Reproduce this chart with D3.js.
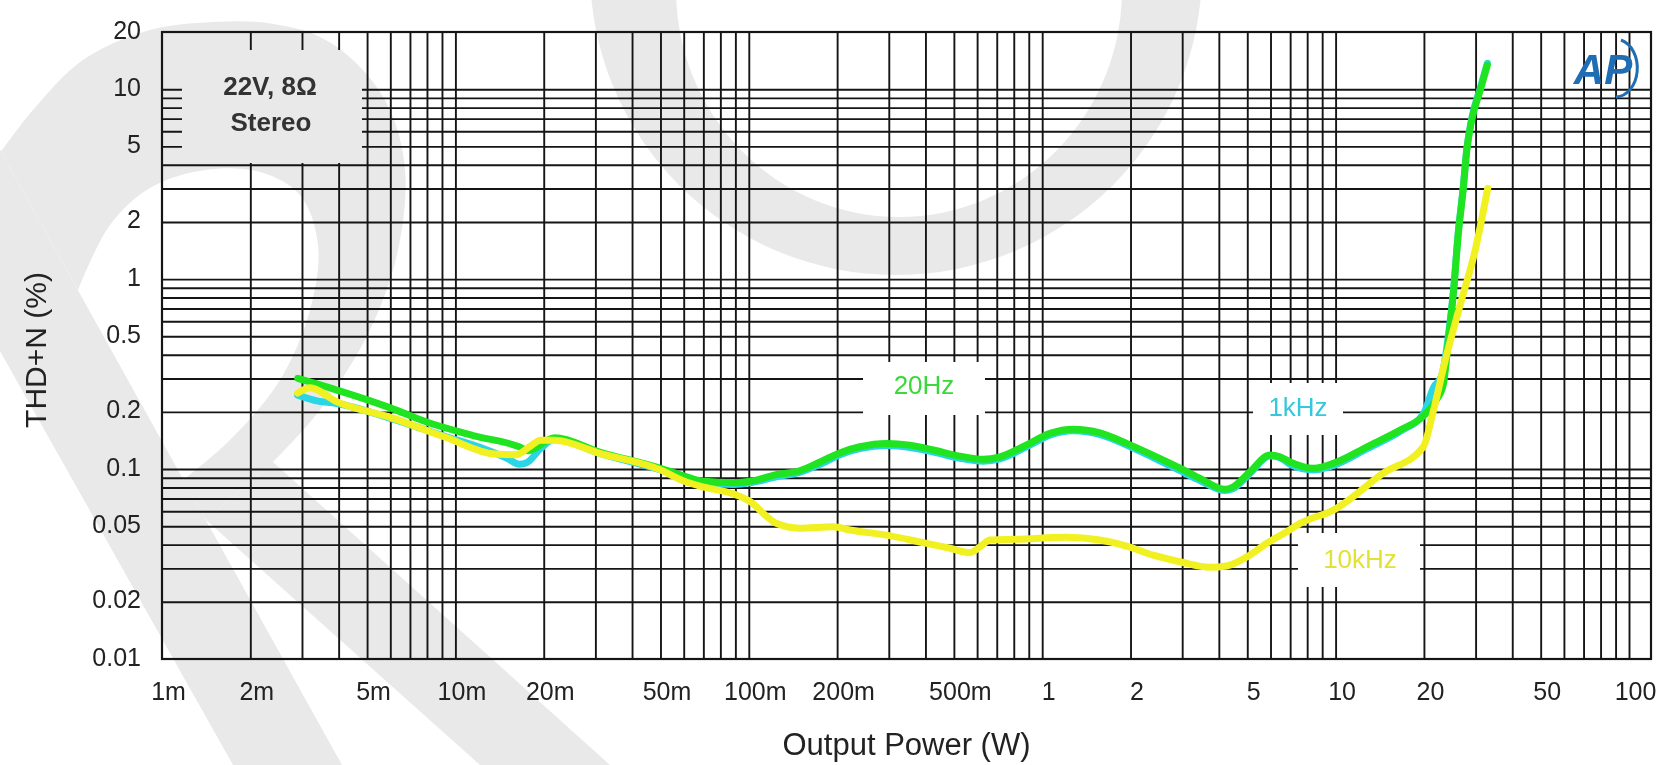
<!DOCTYPE html>
<html>
<head>
<meta charset="utf-8">
<script src="https://cdn.jsdelivr.net/npm/d3@7"></script>
<style>
  html, body { margin: 0; padding: 0; background: #ffffff; }
  svg { display: block; }
  text { font-family: "Liberation Sans", Arial, Helvetica, sans-serif; }
</style>
</head>
<body>
<svg id="chart" width="1659" height="765"></svg>
<script>
// ---- Axis ticks -----------------------------------------------------------
const powerTicks = [0.001, 0.002, 0.005, 0.01, 0.02, 0.05, 0.1, 0.2, 0.5, 1, 2, 5, 10, 20, 50, 100];
const powerTickLabels = ["1m", "2m", "5m", "10m", "20m", "50m", "100m", "200m", "500m", "1", "2", "5", "10", "20", "50", "100"];
const thdTicks = [20, 10, 5, 2, 1, 0.5, 0.2, 0.1, 0.05, 0.02, 0.01];
const thdTickLabels = ["20", "10", "5", "2", "1", "0.5", "0.2", "0.1", "0.05", "0.02", "0.01"];

// ---- Series: output power (W) and THD+N (%) -----------------------------
const seriesNames = ["20Hz", "1kHz", "10kHz"];

const power20Hz = [0.0029, 0.0039, 0.006, 0.0079, 0.0115, 0.0165, 0.0177, 0.0218, 0.031, 0.05, 0.06, 0.069,
  0.089, 0.102, 0.124, 0.149, 0.175, 0.205, 0.239, 0.295, 0.354, 0.426, 0.524, 0.63, 0.718, 0.885, 1.063,
  1.276, 1.574, 1.94, 2.39, 2.95, 3.45, 4.2, 4.48, 5.11, 5.97, 6.46, 6.99, 8.4, 10.09, 12.8, 16.6, 19.9,
  22.0, 23.3, 24.3, 25.2, 26.2, 27.2, 28.0, 29.1, 31.1, 32.9];
const thd20Hz = [0.30, 0.262, 0.21, 0.178, 0.150, 0.131, 0.125, 0.146, 0.123, 0.101, 0.092, 0.0865,
  0.0847, 0.0865, 0.0935, 0.098, 0.109, 0.122, 0.131, 0.1365, 0.1337, 0.126, 0.117, 0.1125, 0.116, 0.134, 0.154,
  0.162, 0.155, 0.1365, 0.118, 0.101, 0.0893, 0.0782, 0.0807, 0.0968, 0.1185, 0.116, 0.109, 0.1009, 0.109, 0.131, 0.1604, 0.19,
  0.23, 0.28, 0.5, 0.84, 1.74, 2.94, 4.77, 6.87, 9.88, 13.4];

const power1kHz = [0.0029, 0.0034, 0.0039, 0.006, 0.0093, 0.0125, 0.015, 0.0165, 0.0175, 0.0195, 0.0218, 0.031,
  0.05, 0.06, 0.069, 0.089, 0.102, 0.124, 0.149, 0.175, 0.205, 0.239, 0.295, 0.354, 0.426, 0.524, 0.63, 0.718,
  0.885, 1.063, 1.276, 1.574, 1.94, 2.39, 2.95, 3.45, 4.2, 4.48, 5.11, 5.97, 6.46, 6.99, 8.4, 10.09, 12.8, 16.6,
  19.9, 21.6, 23.0, 24.3, 25.2, 26.2, 27.2, 28.0, 29.1, 31.1, 32.9];
const thd1kHz = [0.245, 0.228, 0.222, 0.185, 0.148, 0.128, 0.114, 0.106, 0.108, 0.128, 0.144, 0.121,
  0.099, 0.090, 0.085, 0.083, 0.085, 0.091, 0.096, 0.106, 0.119, 0.128, 0.133, 0.130, 0.123, 0.114, 0.110, 0.113,
  0.131, 0.151, 0.159, 0.152, 0.134, 0.115, 0.098, 0.087, 0.077, 0.079, 0.095, 0.117, 0.115, 0.106, 0.099, 0.106, 0.128, 0.158,
  0.195, 0.27, 0.31, 0.52, 0.86, 1.78, 3.0, 4.85, 7.0, 10.1, 13.7];

const power10kHz = [0.0029, 0.0032, 0.0039, 0.006, 0.00925, 0.0136, 0.0161, 0.0179, 0.0195, 0.0218, 0.031,
  0.05, 0.06, 0.071, 0.089, 0.102, 0.114, 0.124, 0.149, 0.194, 0.221, 0.295, 0.404, 0.485, 0.567, 0.614,
  0.664, 0.819, 1.21, 1.574, 1.94, 2.39, 2.95, 3.73, 4.25, 4.98, 5.82, 6.81, 7.57, 9.82, 14.5, 19.9, 21.5,
  23.5, 26.5, 30.0, 33.0];
const thd10kHz = [0.251, 0.268, 0.228, 0.187, 0.147, 0.120, 0.119, 0.131, 0.142, 0.142, 0.121,
  0.099, 0.0865, 0.080, 0.0738, 0.0668, 0.057, 0.0518, 0.0488, 0.0497, 0.0478, 0.0449, 0.0406, 0.0383, 0.0363, 0.039,
  0.0423, 0.0427, 0.0437, 0.0423, 0.0393, 0.0352, 0.0325, 0.0304, 0.0309, 0.0345, 0.0406, 0.0468, 0.0518, 0.0608, 0.0948, 0.131, 0.20,
  0.36, 0.72, 1.45, 3.0];

// ---- Layout ---------------------------------------------------------------
const svg = d3.select("#chart");
const W = 1659, H = 765;
const plotLeft = 162, plotTop = 32, plotBottom = 659, frameRight = 1651;

const x = d3.scaleLog().domain([0.001, 100]).range([plotLeft, 1629]);
const y = d3.scaleLog().domain([0.01, 20]).range([plotBottom, plotTop]);

const colors = { "20Hz": "#1fe41f", "1kHz": "#2ad6e6", "10kHz": "#f1f122" };
const labelColors = { "20Hz": "#3ad83a", "1kHz": "#35c8dc", "10kHz": "#e2e236" };

// ---- Background watermark (light grey letterforms) ---------------------
const wm = svg.append("g").attr("fill", "#e9e9e9").attr("stroke", "none");
// big ring, lower half visible along the top
wm.append("path")
  .attr("fill-rule", "evenodd")
  .attr("d",
    "M " + (896 - 306) + " -30 a 306 305 0 1 0 612 0 a 306 305 0 1 0 -612 0 Z " +
    "M " + (899 - 223) + " -10 a 223 227 0 1 0 446 0 a 223 227 0 1 0 -446 0 Z");
// diagonal stem on the left
wm.append("path").attr("d", "M0,150 L342,765 L233,765 L0,351 Z");
// bowl joined to the stem
const bowlLine = d3.line().curve(d3.curveCatmullRom);
const bowlOuter = [[0,153],[33,110],[83,60],[150,30],[213,22],[267,23],[320,37],[360,67],[390,110],[405,170],[398,250],[370,330],[320,410],[273,462]];
const bowlInner = [[183,480],[230,440],[280,380],[310,310],[318,245],[300,195],[260,172],[205,170],[150,188],[110,225],[78,290]];
wm.append("path").attr("d", bowlLine(bowlOuter) + "L206,520" + bowlLine(bowlInner).replace(/^M/, "L") + "L0,150Z");
// diagonal leg heading to the bottom
wm.append("path").attr("d", "M273,462 L206,520 L480,765 L610,765 Z");

// ---- Grid (knocked out behind the annotation boxes) ---------------------
const knockouts = [
  { x0: 182, y0: 50, x1: 362, y1: 163 },
  { x0: 863, y0: 362, x1: 985, y1: 415 },
  { x0: 1253, y0: 383, x1: 1343, y1: 435 },
  { x0: 1298, y0: 533, x1: 1420, y1: 587 }
];
const defs = svg.append("defs");
const mask = defs.append("mask").attr("id", "gridMask")
  .attr("maskUnits", "userSpaceOnUse").attr("x", 0).attr("y", 0).attr("width", W).attr("height", H);
mask.append("rect").attr("x", 0).attr("y", 0).attr("width", W).attr("height", H).attr("fill", "white");
knockouts.forEach(k => mask.append("rect")
  .attr("x", k.x0).attr("y", k.y0).attr("width", k.x1 - k.x0).attr("height", k.y1 - k.y0).attr("fill", "black"));

const gridPowers = [];
for (let e = -3; e <= 1; e++) for (let k = 1; k <= 9; k++) {
  const v = +(k * Math.pow(10, e)).toPrecision(3);
  if (v > 0.001) gridPowers.push(v);
}
gridPowers.push(100);
const gridThd = [];
for (let e = -2; e <= 0; e++) for (let k = 1; k <= 9; k++) {
  const v = +(k * Math.pow(10, e)).toPrecision(3);
  if (v > 0.01) gridThd.push(v);
}
gridThd.push(10);

const gridG = svg.append("g").attr("mask", "url(#gridMask)");
gridG.append("g")
  .attr("transform", `translate(0,${plotBottom})`)
  .call(d3.axisBottom(x).tickValues(gridPowers).tickSize(-(plotBottom - plotTop)).tickFormat(""))
  .call(g => g.select(".domain").remove());
gridG.append("g")
  .attr("transform", `translate(${plotLeft},0)`)
  .call(d3.axisLeft(y).tickValues(gridThd).tickSize(-(frameRight - plotLeft)).tickFormat(""))
  .call(g => g.select(".domain").remove());
gridG.selectAll(".tick line").attr("stroke", "#151515").attr("stroke-width", 1.9);

// frame
svg.append("rect")
  .attr("x", plotLeft).attr("y", plotTop)
  .attr("width", frameRight - plotLeft).attr("height", plotBottom - plotTop)
  .attr("fill", "none").attr("stroke", "#151515").attr("stroke-width", 2.2);

// ---- Tick labels ----------------------------------------------------------
const xAxisG = svg.append("g")
  .attr("transform", `translate(6,${plotBottom})`)
  .call(d3.axisBottom(x).tickValues(powerTicks).tickSize(0).tickPadding(23)
    .tickFormat((d, i) => powerTickLabels[i]));
xAxisG.select(".domain").remove();
xAxisG.selectAll("text").attr("font-size", 25).attr("fill", "#222")
  .style("font-family", '"Liberation Sans", Arial, sans-serif');

const yAxisG = svg.append("g")
  .attr("transform", `translate(${plotLeft},-2)`)
  .call(d3.axisLeft(y).tickValues(thdTicks).tickSize(0).tickPadding(21)
    .tickFormat((d, i) => thdTickLabels[i]));
yAxisG.select(".domain").remove();
yAxisG.selectAll("text").attr("font-size", 25).attr("fill", "#222")
  .style("font-family", '"Liberation Sans", Arial, sans-serif');

// axis titles
svg.append("text")
  .attr("x", (plotLeft + frameRight) / 2).attr("y", 755)
  .attr("text-anchor", "middle").attr("font-size", 31).attr("fill", "#222")
  .text("Output Power (W)");
svg.append("text")
  .attr("transform", "translate(46,350) rotate(-90)")
  .attr("text-anchor", "middle").attr("font-size", 30).attr("fill", "#222")
  .text("THD+N (%)");

// ---- Curves ---------------------------------------------------------------
const toPoints = (ps, vs) => ps.map((p, i) => ({ p, v: vs[i] }));
const series = [
  { name: "1kHz", pts: toPoints(power1kHz, thd1kHz) },
  { name: "20Hz", pts: toPoints(power20Hz, thd20Hz) },
  { name: "10kHz", pts: toPoints(power10kHz, thd10kHz) }
];
const line = d3.line().x(d => x(d.p)).y(d => y(d.v)).curve(d3.curveMonotoneX);
svg.append("g").selectAll("path").data(series).join("path")
  .attr("d", d => line(d.pts))
  .attr("fill", "none")
  .attr("stroke", d => colors[d.name])
  .attr("stroke-width", 7)
  .attr("stroke-linecap", "round")
  .attr("stroke-linejoin", "round");

// ---- Annotations ----------------------------------------------------------
const noteG = svg.append("g").attr("font-weight", "bold").attr("fill", "#333").attr("font-size", 26)
  .attr("text-anchor", "middle");
noteG.append("text").attr("x", 270).attr("y", 95).text("22V, 8\u03A9");
noteG.append("text").attr("x", 271).attr("y", 131).text("Stereo");

const seriesLabels = [
  { name: "20Hz", x: 924, y: 394 },
  { name: "1kHz", x: 1298, y: 416 },
  { name: "10kHz", x: 1360, y: 568 }
];
svg.append("g").selectAll("text").data(seriesLabels).join("text")
  .attr("x", d => d.x).attr("y", d => d.y)
  .attr("text-anchor", "middle").attr("font-size", 26)
  .attr("fill", d => labelColors[d.name])
  .text(d => d.name);

// analyzer logo in the corner
const logo = svg.append("g").attr("fill", "#1f6db5").attr("stroke", "#1f6db5");
logo.append("text").attr("x", 1603).attr("y", 84).attr("text-anchor", "middle")
  .attr("font-size", 42).attr("font-style", "italic").attr("font-weight", "bold").attr("stroke", "none")
  .text("AP");
logo.append("path").attr("d", "M1621,40 A 22 29 0 0 1 1616,97")
  .attr("fill", "none").attr("stroke-width", 3);
</script>
</body>
</html>
